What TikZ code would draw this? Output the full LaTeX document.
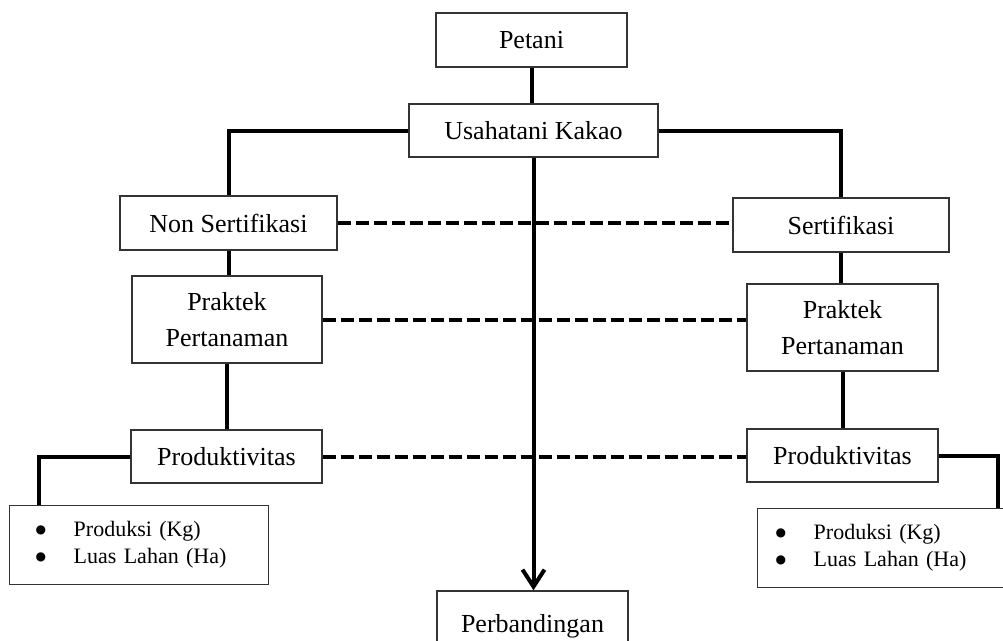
\documentclass[tikz,border=0pt]{standalone}
\usepackage{fontspec}
\setmainfont{Liberation Serif}
\newfontfamily\symfont{DejaVu Sans}
\usetikzlibrary{arrows.meta,calc}
\tikzset{
  box/.style={draw=black!80, line width=1.4pt, fill=white, inner sep=0pt, align=center,
    font=\fontsize{26}{36}\selectfont},
  listbox/.style={draw=black!80, line width=1.4pt, fill=white, inner ysep=0pt, align=left,
    anchor=west, font=\fontsize{22}{27}\selectfont},
  conn/.style={line width=4pt, black},
  link/.style={line width=4pt, black, dash pattern=on 13pt off 5pt},
}
\newcommand{\bul}{\makebox[38pt][l]{\raisebox{3.5pt}{\fontsize{12}{27}\symfont ●}}}
\begin{document}
\begin{tikzpicture}[x=1pt,y=-1pt]
\useasboundingbox (0,0) rectangle (1003,640);
\node[box, minimum width=191, minimum height=54] (petani) at (531.5,40) {Petani};
\node[box, minimum width=249, minimum height=53] (usaha) at (533.5,130.5) {Usahatani Kakao};
\node[box, minimum width=217, minimum height=54] (nons) at (228.5,223) {Non Sertifikasi};
\node[box, minimum width=190, minimum height=87] (prakL) at (227,319.5) {Praktek\\Pertanaman};
\node[box, minimum width=191, minimum height=53] (prodL) at (226.5,456.5) {Produktivitas};
\node[box, minimum width=216, minimum height=54] (sert) at (841,225) {Sertifikasi};
\node[box, minimum width=191, minimum height=87] (prakR) at (842.5,327.5) {Praktek\\Pertanaman};
\node[box, minimum width=191, minimum height=53] (prodR) at (842.5,455.5) {Produktivitas};
\node[listbox, inner xsep=26pt, minimum width=259, minimum height=79, text width=207pt] (listL) at (9,545)
  {\bul Produksi (Kg)\\\bul Luas Lahan (Ha)};
\node[listbox, inner xsep=18pt, minimum width=255, minimum height=79, text width=219pt] (listR) at (757,548)
  {\bul Produksi (Kg)\\\bul Luas Lahan (Ha)};
\node[box, minimum width=191, minimum height=70] (perb) at (532.5,626) {Perbandingan};
% solid connectors
\draw[conn] (petani.south) -- (petani.south |- usaha.north);
\draw[conn] (usaha.west) -| (nons.north);
\draw[conn] (usaha.east) -| (sert.north);
\draw[conn] (nons.south) -- (nons.south |- prakL.north);
\draw[conn] (prakL.south) -- (prakL.south |- prodL.north);
\draw[conn] (sert.south) -- (sert.south |- prakR.north);
\draw[conn] (prakR.south) -- (prakR.south |- prodR.north);
\draw[conn] (prodL.west) -| ($(listL.north west)+(30,0)$);
\draw[conn] (prodR.east) -| ($(listR.north east)+(-15,0)$);
\draw[conn, -{Straight Barb[length=17pt,width=22pt,line width=4pt]}] (usaha.south) -- (usaha.south |- perb.north);
% dashed links
\draw[link] (nons.east) -- (nons.east -| sert.west);
\draw[link] (prakL.east) -- (prakL.east -| prakR.west);
\draw[link] (prodL.east) -- (prodL.east -| prodR.west);
\end{tikzpicture}
\end{document}
